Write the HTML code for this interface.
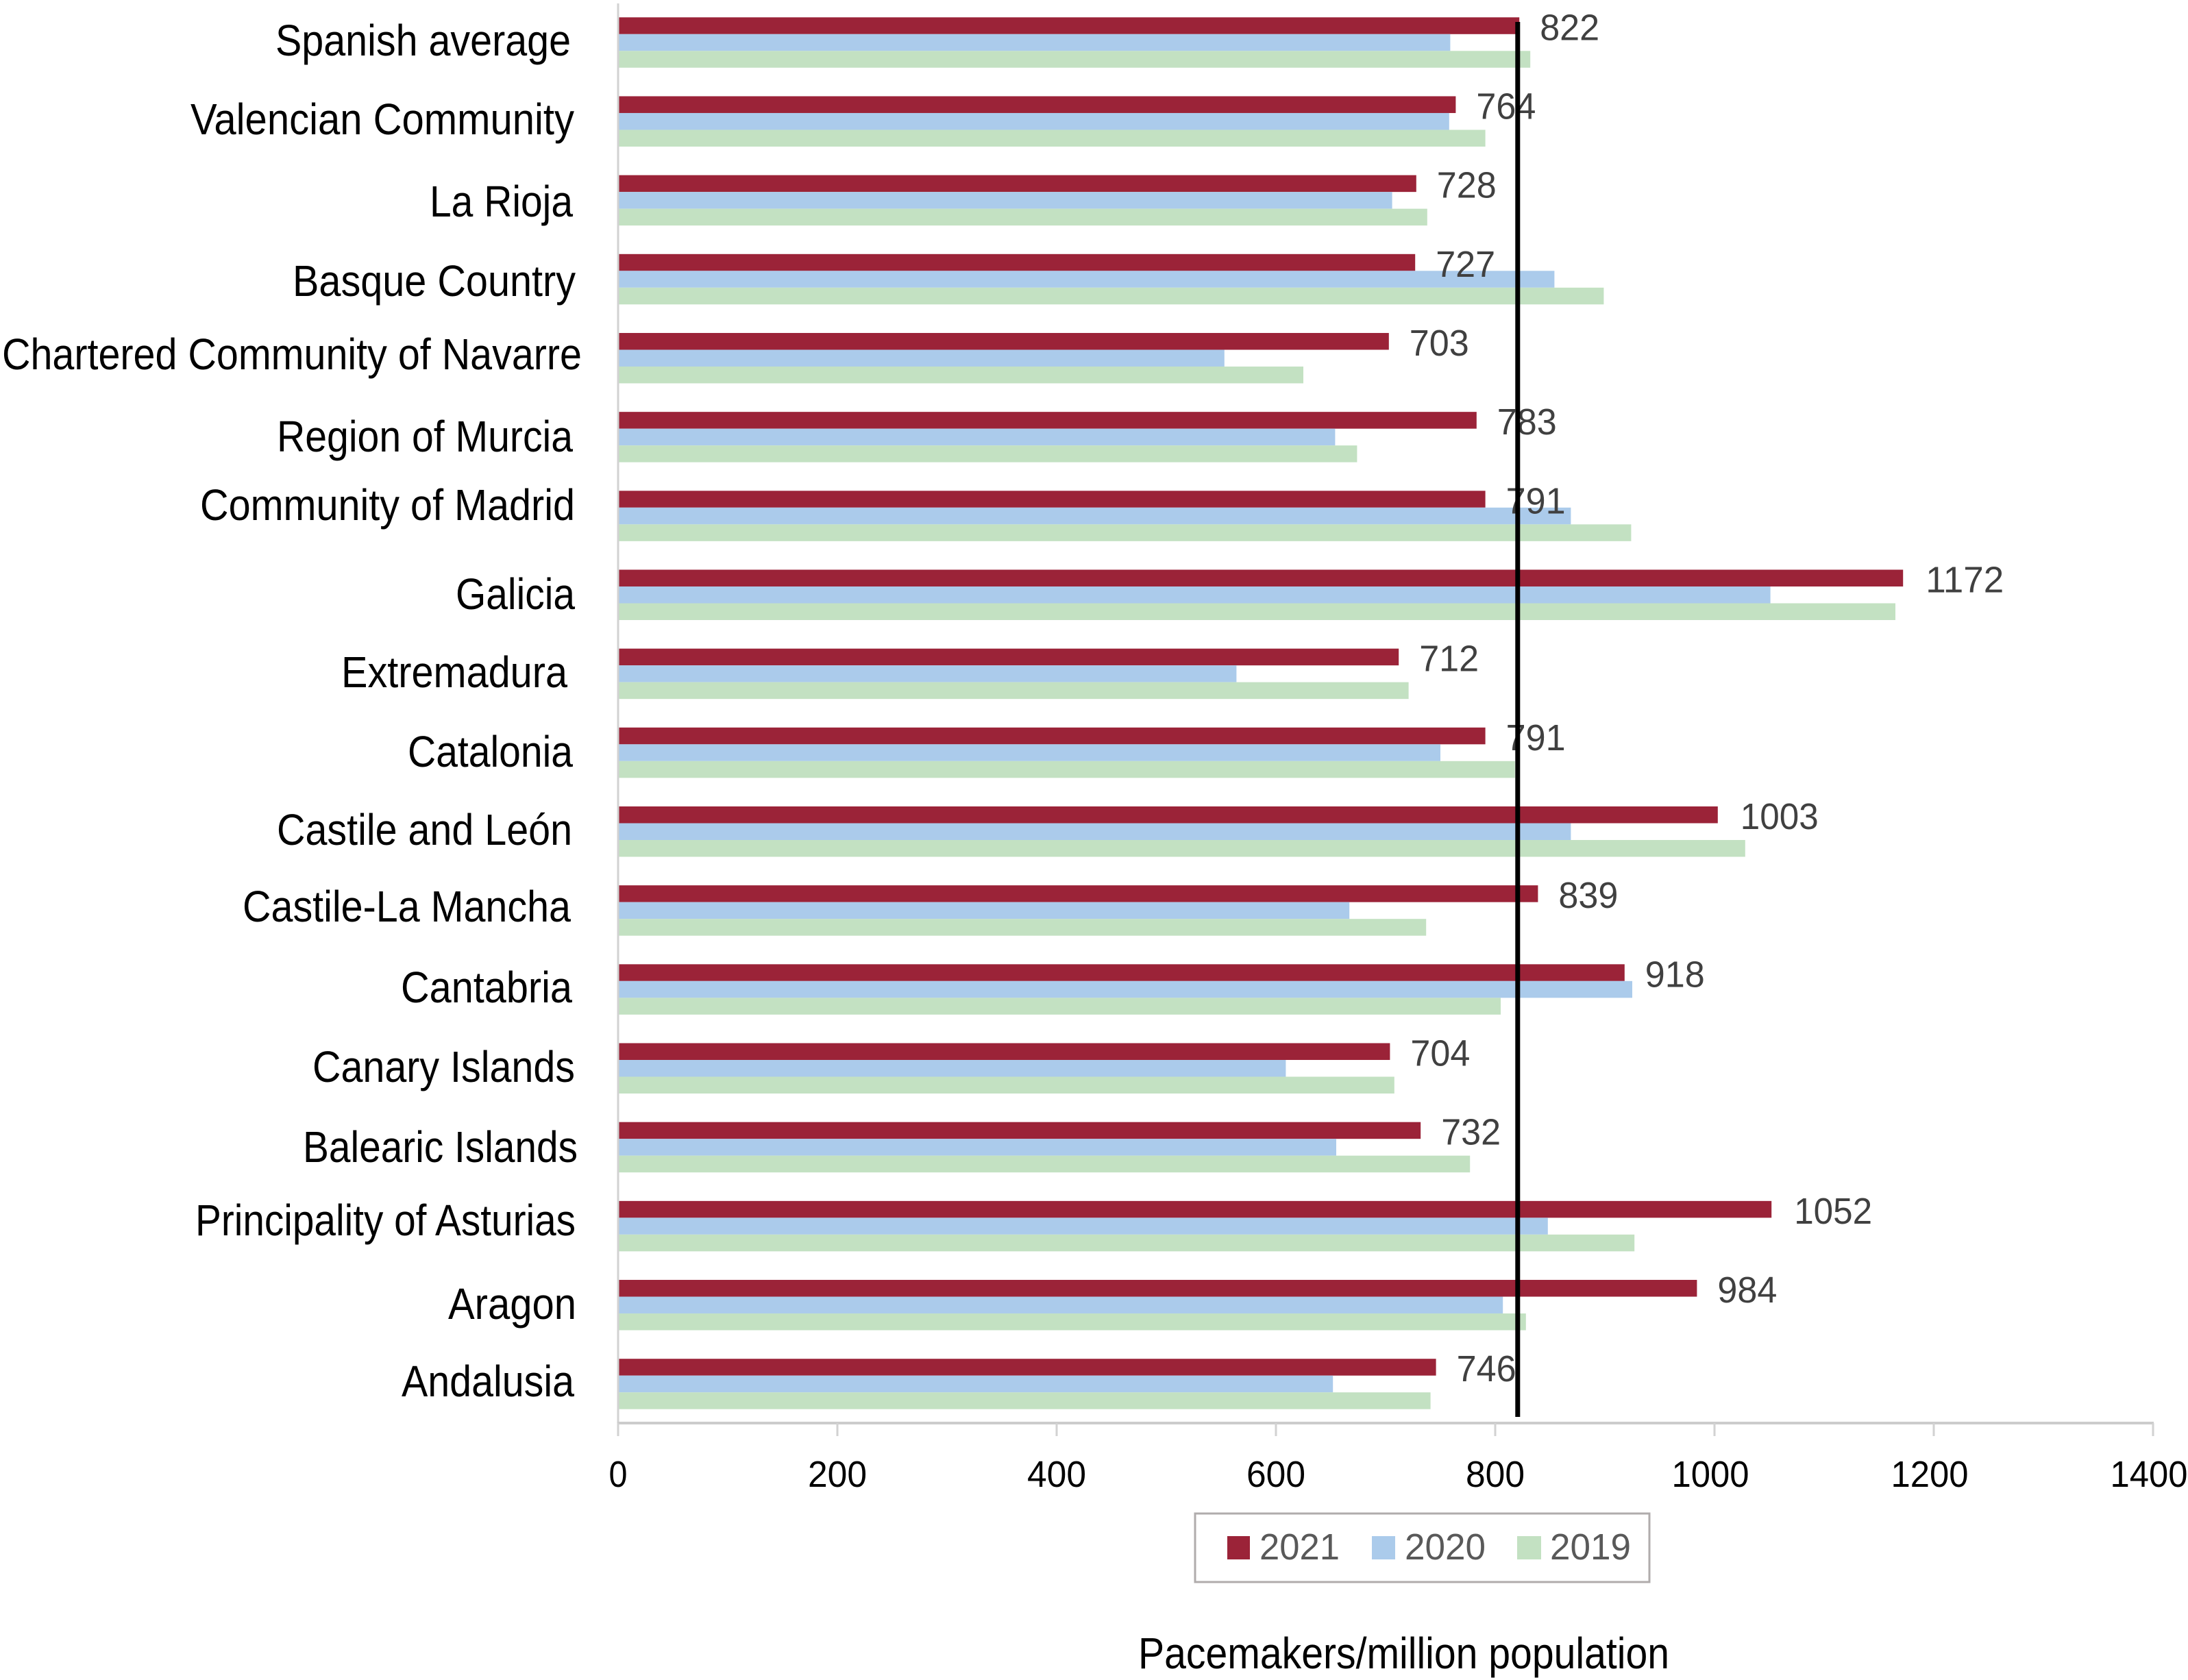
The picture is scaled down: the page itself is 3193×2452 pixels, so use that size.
<!DOCTYPE html>
<html lang="en">
<head>
<meta charset="utf-8">
<title>Pacemakers per million population</title>
<style>
html,body{margin:0;padding:0;background:#fff;}
svg{display:block;font-family:"Liberation Sans",sans-serif;}
.cat{font-size:64px;fill:#000;}
.tick{font-size:54px;fill:#000;}
.val{font-size:54px;fill:#404040;}
.leg{font-size:54px;fill:#595959;}
</style>
</head>
<body>
<svg id="chart" xmlns="http://www.w3.org/2000/svg" width="3193" height="2452" viewBox="0 0 3193 2452">
  <rect x="0" y="0" width="3193" height="2452" fill="#ffffff"/>
  <g id="bars"></g>
  <g id="axes"></g>
  <g id="values"></g>
  <g id="reference"></g>

  <g>
    <text class="cat" x="402" y="81" textLength="431" lengthAdjust="spacingAndGlyphs">Spanish average</text>
    <text class="cat" x="278" y="196" textLength="560" lengthAdjust="spacingAndGlyphs">Valencian Community</text>
    <text class="cat" x="627" y="316" textLength="209" lengthAdjust="spacingAndGlyphs">La Rioja</text>
    <text class="cat" x="427" y="432" textLength="413" lengthAdjust="spacingAndGlyphs">Basque Country</text>
    <text class="cat" x="3" y="539" textLength="846" lengthAdjust="spacingAndGlyphs">Chartered Community of Navarre</text>
    <text class="cat" x="404" y="659" textLength="432" lengthAdjust="spacingAndGlyphs">Region of Murcia</text>
    <text class="cat" x="292" y="759" textLength="547" lengthAdjust="spacingAndGlyphs">Community of Madrid</text>
    <text class="cat" x="665" y="889" textLength="174" lengthAdjust="spacingAndGlyphs">Galicia</text>
    <text class="cat" x="498" y="1003" textLength="330" lengthAdjust="spacingAndGlyphs">Extremadura</text>
    <text class="cat" x="595" y="1119" textLength="241" lengthAdjust="spacingAndGlyphs">Catalonia</text>
    <text class="cat" x="404" y="1233" textLength="431" lengthAdjust="spacingAndGlyphs">Castile and León</text>
    <text class="cat" x="354" y="1345" textLength="479" lengthAdjust="spacingAndGlyphs">Castile-La Mancha</text>
    <text class="cat" x="585" y="1463" textLength="250" lengthAdjust="spacingAndGlyphs">Cantabria</text>
    <text class="cat" x="456" y="1579" textLength="383" lengthAdjust="spacingAndGlyphs">Canary Islands</text>
    <text class="cat" x="442" y="1696" textLength="401" lengthAdjust="spacingAndGlyphs">Balearic Islands</text>
    <text class="cat" x="285" y="1803" textLength="555" lengthAdjust="spacingAndGlyphs">Principality of Asturias</text>
    <text class="cat" x="654" y="1925" textLength="187" lengthAdjust="spacingAndGlyphs">Aragon</text>
    <text class="cat" x="586" y="2038" textLength="252" lengthAdjust="spacingAndGlyphs">Andalusia</text>
  </g>

  <g>
    <rect x="1744" y="2209" width="663" height="100" fill="#ffffff" stroke="#b0acac" stroke-width="3"/>
    <rect x="1791" y="2242" width="33" height="34" fill="#9b2338"/>
    <text class="leg" x="1838" y="2276" textLength="117" lengthAdjust="spacingAndGlyphs">2021</text>
    <rect x="2002" y="2242" width="34" height="34" fill="#abcbeb"/>
    <text class="leg" x="2050" y="2276" textLength="118" lengthAdjust="spacingAndGlyphs">2020</text>
    <rect x="2214" y="2242" width="35" height="34" fill="#c3e1c2"/>
    <text class="leg" x="2262" y="2276" textLength="118" lengthAdjust="spacingAndGlyphs">2019</text>
  </g>

  <text class="cat" x="1661" y="2435" textLength="775" lengthAdjust="spacingAndGlyphs">Pacemakers/million population</text>
</svg>

<script>
const categories = ["Spanish average","Valencian Community","La Rioja","Basque Country","Chartered Community of Navarre","Region of Murcia","Community of Madrid","Galicia","Extremadura","Catalonia","Castile and León","Castile-La Mancha","Cantabria","Canary Islands","Balearic Islands","Principality of Asturias","Aragon","Andalusia"];
const values2021 = [822,764,728,727,703,783,791,1172,712,791,1003,839,918,704,732,1052,984,746];
const values2020 = [759,758,706,854,553,654,869,1051,564,750,869,667,925,609,655,848,807,652];
const values2019 = [832,791,738,899,625,674,924,1165,721,818,1028,737,805,708,777,927,828,741];
const tickLabels = [0,200,400,600,800,1000,1200,1400];
const referenceValue = 820.5;

const NS = "http://www.w3.org/2000/svg";
const originX = 902, unitsPerPx = 1.6;
const firstGroupTop = 25.3, groupPitch = 115.17, barH = 24.5;
const axisY = 2077;

function xScale(v) { return originX + v * unitsPerPx; }
function groupTop(i) { return firstGroupTop + i * groupPitch; }
function slug(s) { return s.toLowerCase().normalize("NFD").replace(/[^a-z0-9]+/g, "-"); }
function make(tag, parent) {
  const el = document.createElementNS(NS, tag);
  parent.appendChild(el);
  return el;
}

const barsG = document.getElementById("bars");
const axesG = document.getElementById("axes");
const valuesG = document.getElementById("values");
const refG = document.getElementById("reference");

const seriesYears = ["2021", "2020", "2019"];
const seriesValues = [values2021, values2020, values2019];
const seriesColors = ["#9b2338", "#abcbeb", "#c3e1c2"];

categories.forEach(function (cat, i) {
  seriesValues.forEach(function (vals, s) {
    const r = make("rect", barsG);
    
    
    r.setAttribute("x", originX);
    r.setAttribute("y", groupTop(i) + s * barH);
    r.setAttribute("width", xScale(vals[i]) - originX);
    r.setAttribute("height", barH);
    r.setAttribute("fill", seriesColors[s]);
  });

  const t = make("text", valuesG);
  
  
  const label = String(values2021[i]);
  t.setAttribute("class", "val");
  t.setAttribute("x", xScale(values2021[i]) + (label.length > 3 ? 33 : 30));
  t.setAttribute("y", groupTop(i) + 33);
  t.setAttribute("textLength", label.length > 3 ? 114 : 87);
  t.setAttribute("lengthAdjust", "spacingAndGlyphs");
  t.textContent = label;
});

const yAxis = make("line", axesG);


yAxis.setAttribute("x1", originX);
yAxis.setAttribute("x2", originX);
yAxis.setAttribute("y1", 5);
yAxis.setAttribute("y2", axisY);
yAxis.setAttribute("stroke", "#d2d2d2");
yAxis.setAttribute("stroke-width", 3);

const xAxis = make("line", axesG);


xAxis.setAttribute("x1", originX - 1.5);
xAxis.setAttribute("x2", xScale(1400) + 1);
xAxis.setAttribute("y1", axisY);
xAxis.setAttribute("y2", axisY);
xAxis.setAttribute("stroke", "#cccccc");
xAxis.setAttribute("stroke-width", 4);

tickLabels.forEach(function (v) {
  const tk = make("line", axesG);
  
  
  tk.setAttribute("x1", xScale(v));
  tk.setAttribute("x2", xScale(v));
  tk.setAttribute("y1", axisY);
  tk.setAttribute("y2", 2096);
  tk.setAttribute("stroke", "#d2d2d2");
  tk.setAttribute("stroke-width", 3);

  const s = String(v);
  const w = s.length === 1 ? 27 : s.length === 3 ? 86 : 113;
  const lbl = make("text", axesG);
  
  
  lbl.setAttribute("class", "tick");
  lbl.setAttribute("x", xScale(v) - w / 2 - (s.length > 3 ? 6 : 0));
  lbl.setAttribute("y", 2170);
  lbl.setAttribute("textLength", w);
  lbl.setAttribute("lengthAdjust", "spacingAndGlyphs");
  lbl.textContent = s;
});

const refLine = make("line", refG);


refLine.setAttribute("x1", xScale(referenceValue));
refLine.setAttribute("x2", xScale(referenceValue));
refLine.setAttribute("y1", 32);
refLine.setAttribute("y2", 2068);
refLine.setAttribute("stroke", "#000000");
refLine.setAttribute("stroke-width", 7);
</script>
</body>
</html>
